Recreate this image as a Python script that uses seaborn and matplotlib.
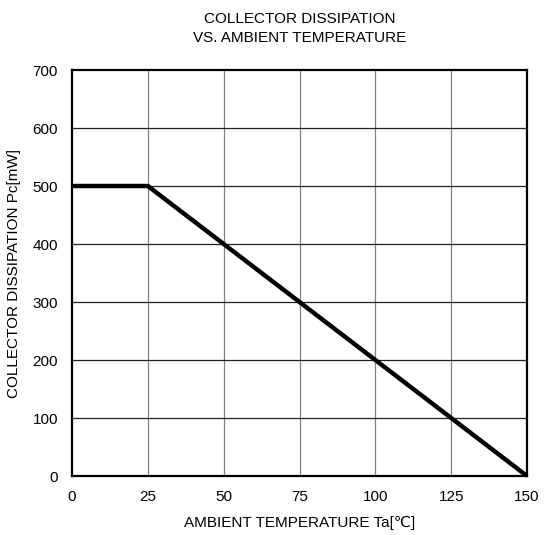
import matplotlib
matplotlib.use("Agg")
import matplotlib.pyplot as plt
import seaborn as sns
import pandas as pd

temperature = [0, 25, 150]
dissipation = [500, 500, 0]
x_ticks = [0, 25, 50, 75, 100, 125, 150]
y_ticks = [0, 100, 200, 300, 400, 500, 600, 700]

sns.set_style("white")
plt.rcParams['font.family'] = ['Liberation Sans', 'DejaVu Sans']
plt.rcParams['text.color'] = 'black'
plt.rcParams['axes.labelcolor'] = 'black'

df = pd.DataFrame({"Ta": temperature, "Pc": dissipation})

fig = plt.figure(figsize=(5.46, 5.35), dpi=100)
ax = fig.add_axes([72/546, 1 - 476/535, (527-72)/546, (476-70)/535])

for xv in x_ticks[1:-1]:
    ax.axvline(xv, color="#808080", lw=0.9, zorder=1)
for yv in y_ticks[1:-1]:
    ax.axhline(yv, color="#202020", lw=0.9, zorder=1)

sns.lineplot(data=df, x="Ta", y="Pc", ax=ax, color="black", lw=3.2, zorder=3,
             solid_joinstyle="miter")

ax.set_xlim(0, 150)
ax.set_ylim(0, 700)
ax.set_xticks(x_ticks)
ax.set_yticks(y_ticks)
ax.tick_params(axis="x", length=0, labelsize=11, pad=10, colors="black")
ax.tick_params(axis="y", length=0, labelsize=11, pad=10, colors="black")
for s in ax.spines.values():
    s.set_color("black")
    s.set_linewidth(1.6)
    s.set_visible(True)

ax.set_xlabel("AMBIENT TEMPERATURE Ta[℃]", fontsize=11, labelpad=9, color="black")
ax.set_ylabel("COLLECTOR DISSIPATION Pc[mW]", fontsize=11, labelpad=8, color="black")
ax.set_title("COLLECTOR DISSIPATION\nVS. AMBIENT TEMPERATURE", fontsize=11,
             pad=20, linespacing=1.45, color="black")

fig.savefig("out.png", dpi=100)
